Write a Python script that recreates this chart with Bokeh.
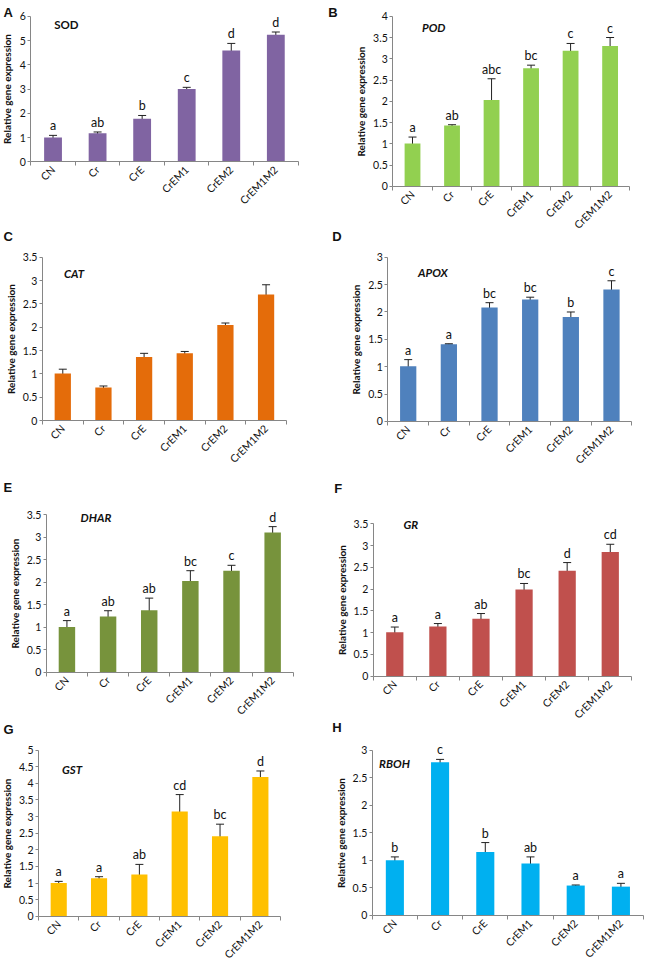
import math
from bokeh.plotting import figure
from bokeh.models import (ColumnDataSource, Whisker, TeeHead, Label, FixedTicker,
                          Range1d, NumeralTickFormatter)
from bokeh.layouts import column, row
from bokeh.embed import file_html
from bokeh.resources import INLINE
from bokeh.core.properties import value

# ---------------- data ----------------
treatments = ["CN", "Cr", "CrE", "CrEM1", "CrEM2", "CrEM1M2"]

sod_mean = [1.00, 1.18, 1.78, 3.00, 4.59, 5.24]
sod_err = [0.09, 0.05, 0.13, 0.07, 0.29, 0.11]
sod_sig = ["a", "ab", "b", "c", "d", "d"]

pod_mean = [1.01, 1.43, 2.03, 2.78, 3.19, 3.30]
pod_err = [0.15, 0.02, 0.50, 0.07, 0.17, 0.20]
pod_sig = ["a", "ab", "abc", "bc", "c", "c"]

cat_mean = [1.01, 0.71, 1.36, 1.44, 2.05, 2.70]
cat_err = [0.09, 0.03, 0.08, 0.04, 0.04, 0.21]
cat_sig = ["", "", "", "", "", ""]

apox_mean = [1.01, 1.41, 2.08, 2.23, 1.91, 2.41]
apox_err = [0.12, 0.01, 0.09, 0.04, 0.09, 0.16]
apox_sig = ["a", "a", "bc", "bc", "b", "c"]

dhar_mean = [1.01, 1.24, 1.38, 2.03, 2.26, 3.11]
dhar_err = [0.14, 0.13, 0.27, 0.23, 0.12, 0.13]
dhar_sig = ["a", "ab", "ab", "bc", "c", "d"]

gr_mean = [1.01, 1.14, 1.32, 1.99, 2.42, 2.85]
gr_err = [0.12, 0.07, 0.12, 0.14, 0.19, 0.18]
gr_sig = ["a", "a", "ab", "bc", "d", "cd"]

gst_mean = [1.00, 1.14, 1.26, 3.15, 2.41, 4.19]
gst_err = [0.05, 0.05, 0.30, 0.51, 0.36, 0.18]
gst_sig = ["a", "a", "ab", "cd", "bc", "d"]

rboh_mean = [1.00, 2.78, 1.15, 0.94, 0.54, 0.52]
rboh_err = [0.06, 0.05, 0.17, 0.12, 0.01, 0.06]
rboh_sig = ["b", "c", "b", "ab", "a", "a"]

y_label = "Relative gene expression"

# ---------------- styling / layout ----------------
FONT = "Lato"
AXIS_GRAY = "#868686"
TXT = "#111111"

# reference picture (660 x 978) is mapped into the 644 x 962 page area
KX = 644 / 660
KY = 962 / 978


def px(rx):
    return rx * KX


def py(ry):
    return ry * KY


def panel(gene, italic, color, mean, err, sig, ymax, ystep,
          cell, axis_box, gene_at, letters):
    """cell: (left, top, right, bottom) of the figure in reference pixels;
    axis_box: (left, right, top, bottom) of the axes in reference pixels."""
    cl, ct, cr, cb = cell
    ox, oy = round(px(cl)), round(py(ct))
    W, H = round(px(cr)) - ox, round(py(cb)) - oy
    L, R, T, B = axis_box
    x0, x1 = px(L) - ox, px(R) - ox
    y0, y1 = py(B) - oy, py(T) - oy
    n = len(treatments)
    sx = (x1 - x0) / n
    sy = (y0 - y1) / ymax

    def scr(rx, ry):
        return px(rx) - ox, H - (py(ry) - oy)

    x = [i + 0.5 for i in range(n)]
    top = [m + e for m, e in zip(mean, err)]
    src = ColumnDataSource(dict(x=x, mean=mean, upper=top,
                                lower=[m - e for m, e in zip(mean, err)],
                                top=top, sig=sig))
    p = figure(width=W, height=H,
               x_range=Range1d(-x0 / sx, (W - x0) / sx),
               y_range=Range1d((y0 - H) / sy, y0 / sy),
               output_backend="svg", toolbar_location=None,
               min_border=0, min_border_left=0, min_border_right=0,
               min_border_top=0, min_border_bottom=0)
    p.outline_line_color = None
    p.grid.visible = False
    p.vbar(x="x", top="mean", width=0.4, source=src, fill_color=color,
           line_color=None)
    wk = Whisker(base="x", upper="upper", lower="lower", source=src,
                 line_color="#222222", line_width=1,
                 upper_head=TeeHead(size=8, line_color="#222222", line_width=1),
                 lower_head=TeeHead(size=8, line_color="#222222", line_width=1))
    p.add_layout(wk)
    p.text(x="x", y="top", text="sig", source=src, text_font=value(FONT),
           text_font_size=value("12.5px"), text_color=TXT,
           text_align="center", text_baseline="bottom", y_offset=-2)

    # x axis: labels at category centres, ticks at category boundaries
    xa = p.xaxis[0]
    xa.fixed_location = 0
    xa.bounds = (0, n)
    xa.ticker = FixedTicker(ticks=x, minor_ticks=list(range(n + 1)))
    xa.major_label_overrides = {xi: t for xi, t in zip(x, treatments)}
    xa.major_label_orientation = math.pi / 4
    xa.major_tick_out = 0
    xa.major_tick_in = 0
    xa.minor_tick_out = 4
    xa.minor_tick_in = 0
    xa.minor_tick_line_color = AXIS_GRAY
    xa.axis_line_color = AXIS_GRAY
    xa.major_label_text_font = FONT
    xa.major_label_text_font_size = "10.5px"
    xa.major_label_text_color = TXT
    xa.major_label_standoff = 2

    ya = p.yaxis[0]
    ya.fixed_location = 0
    ya.bounds = (0, ymax)
    k = int(round(ymax / ystep))
    ya.ticker = FixedTicker(ticks=[i * ystep for i in range(k + 1)])
    ya.formatter = NumeralTickFormatter(format="0.[0]")
    ya.major_tick_out = 3
    ya.major_tick_in = 0
    ya.minor_tick_out = 0
    ya.minor_tick_in = 0
    ya.axis_line_color = AXIS_GRAY
    ya.major_tick_line_color = AXIS_GRAY
    ya.major_label_text_font = FONT
    ya.major_label_text_font_size = "10.5px"
    ya.major_label_text_color = TXT
    ya.major_label_standoff = 2
    ya.axis_label = y_label
    ya.axis_label_text_font = FONT
    ya.axis_label_text_font_size = "10px"
    ya.axis_label_text_font_style = "bold"
    ya.axis_label_text_color = TXT
    ya.axis_label_standoff = 3

    gx, gy = scr(*gene_at)
    p.add_layout(Label(x=gx, y=gy, x_units="screen", y_units="screen",
                       text=gene, text_font=FONT, text_font_size="11.5px",
                       text_font_style="bold italic" if italic else "bold",
                       text_color=TXT, text_baseline="middle"))
    for (lt, rx, ry) in letters:
        lx, ly = scr(rx, ry)
        p.add_layout(Label(x=lx, y=ly, x_units="screen", y_units="screen",
                           text=lt, text_font="Liberation Sans",
                           text_font_size="13px", text_font_style="bold",
                           text_color=TXT, text_baseline="top"))
    return p


# left column (reference x 0..330)
pA = panel("SOD", False, "#8064A2", sod_mean, sod_err, sod_sig, 6, 1,
           (0, 0, 330, 226), (31, 305, 16, 164), (55, 24), [("A", 3, 5)])
pC = panel("CAT", True, "#E46C0A", cat_mean, cat_err, cat_sig, 3.5, 0.5,
           (0, 226, 330, 480), (43, 293, 261, 427), (65, 278), [("C", 3, 232)])
pE = panel("DHAR", True, "#77933C", dhar_mean, dhar_err, dhar_sig, 3.5, 0.5,
           (0, 480, 330, 731), (47, 300, 523, 683), (82, 526), [("E", 3, 487)])
pG = panel("GST", True, "#FFC000", gst_mean, gst_err, gst_sig, 5, 0.5,
           (0, 731, 330, 978), (39, 287, 762, 931), (63, 782), [("G", 3, 733)])

# right column (reference x 330..660)
pB = panel("POD", True, "#92D050", pod_mean, pod_err, pod_sig, 4, 0.5,
           (330, 0, 660, 251), (402, 645, 16, 189), (432, 27),
           [("B", 336, 5), ("D", 340, 232)])
pD = panel("APOX", True, "#4F81BD", apox_mean, apox_err, apox_sig, 3, 0.5,
           (330, 251, 660, 484), (397, 647, 261, 428), (428, 277), [])
pF = panel("GR", True, "#C0504D", gr_mean, gr_err, gr_sig, 3.5, 0.5,
           (330, 484, 660, 751), (382, 647, 532, 687), (413, 533),
           [("F", 342, 488), ("H", 340, 731)])
pH = panel("RBOH", True, "#00B0F0", rboh_mean, rboh_err, rboh_sig, 3, 0.5,
           (330, 751, 660, 978), (381, 659, 762, 930), (388, 776), [])

layout = row(column(pA, pC, pE, pG, spacing=0),
             column(pB, pD, pF, pH, spacing=0), spacing=0)

open("out.html", "w").write(file_html(layout, INLINE))
